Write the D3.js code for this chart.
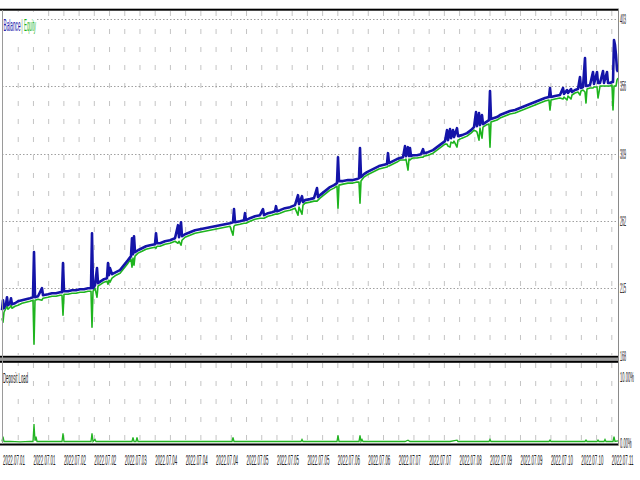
<!DOCTYPE html>
<html><head><meta charset="utf-8">
<script src="https://cdn.jsdelivr.net/npm/d3@7"></script>
<style>body{margin:0;background:#fff}svg{display:block}</style>
</head><body><svg id="c" width="640" height="480"></svg>
<script>
// ---- data (trade number, balance, equity) ----
const trade = [2,3,4,6,7,8,10,11,12,15,18,22,26,30,33,34,35,38,42,43,48,52,56,60,62,63,64,68,72,76,80,84,88,91,92,93,95,97,98,101,104,107,108,109,110,112,116,120,124,128,131,132,133,134,135,138,142,146,150,155,156,157,160,165,170,175,178,179,181,182,185,190,195,200,205,210,215,220,225,230,233,234,235,240,244,245,246,250,255,260,263,264,268,272,275,276,277,280,285,290,295,298,299,302,303,305,310,314,317,318,320,325,330,334,337,338,339,343,348,353,357,359,360,361,364,367,371,375,379,383,387,388,389,393,397,400,403,405,406,408,409,410,411,413,417,421,423,424,428,433,437,441,445,447,448,450,451,453,454,457,458,462,467,471,474,476,477,479,480,482,483,486,489,490,491,494,497,500,505,510,515,520,525,530,535,540,545,549,550,551,555,560,563,564,567,568,571,572,575,578,580,581,583,585,586,587,590,593,594,597,598,600,603,604,607,608,610,612,613,614,615,616,617,618];
const balance = [199.6,206.6,201.0,203.8,208.7,203.1,204.5,208.0,203.8,204.5,205.9,206.6,207.3,208.0,208.7,240.2,208.7,209.4,215.0,210.1,210.8,211.5,211.5,212.2,212.2,232.5,212.9,212.9,213.6,213.6,214.3,214.3,215.0,215.0,253.4,215.0,217.1,229.0,218.5,219.9,221.3,222.0,232.5,224.1,229.0,224.8,226.2,227.6,231.1,234.6,237.4,249.9,238.8,251.3,240.2,241.5,242.9,244.3,245.0,245.7,253.4,246.4,246.4,247.8,248.5,249.9,259.0,250.6,261.1,251.3,252.7,254.1,255.5,256.2,256.9,257.6,258.3,259.0,259.7,260.4,261.1,270.2,261.1,261.8,262.5,267.4,262.5,263.9,265.3,266.0,270.2,266.0,267.4,268.1,268.8,272.3,268.8,269.5,270.9,271.6,273.0,280.0,273.7,279.3,275.1,276.5,277.2,277.9,284.9,278.6,280.0,282.8,285.6,287.0,288.4,306.5,289.8,289.8,290.5,290.5,291.2,291.9,312.8,292.6,294.7,296.1,297.5,298.9,300.3,301.0,301.7,309.3,302.4,303.8,305.2,305.9,306.5,314.2,307.2,313.5,307.2,312.8,307.2,307.9,307.9,308.6,312.1,309.3,310.0,311.4,313.5,315.6,317.7,325.4,318.4,326.1,319.8,325.4,320.5,326.8,321.2,321.9,323.3,325.4,327.5,338.0,328.2,337.3,328.9,335.9,329.6,331.0,332.4,352.7,333.1,333.8,334.5,335.9,337.3,338.7,339.4,340.8,342.2,343.6,345.0,346.4,347.8,348.5,354.8,348.5,349.2,349.9,354.8,350.6,353.4,351.3,354.1,352.0,353.4,354.1,362.5,354.8,355.5,375.7,356.2,356.2,356.9,366.0,357.6,366.0,358.3,358.3,366.7,358.3,366.0,358.3,358.3,359.0,359.0,388.3,384.8,377.8,367.4,366.0];
const equity = [194.0,191.2,198.2,201.0,202.4,200.3,201.7,203.1,201.0,202.4,203.1,204.5,205.2,205.9,206.6,175.9,206.6,207.3,206.6,208.0,208.7,209.4,209.4,210.1,210.1,196.1,210.8,210.8,211.5,211.5,212.2,212.2,212.9,212.9,187.7,212.9,215.0,208.7,216.4,217.8,219.2,219.9,217.8,220.6,219.2,222.0,224.1,225.5,229.0,232.5,235.3,229.7,236.0,231.1,237.4,239.5,240.8,242.2,242.9,243.6,242.9,244.3,244.3,245.7,246.4,247.8,246.4,247.8,245.0,248.5,250.6,252.0,253.4,254.1,254.8,255.5,256.2,256.9,257.6,258.3,252.0,258.3,259.0,259.7,260.4,260.4,260.4,261.8,263.2,263.9,263.9,263.9,265.3,266.0,266.7,266.7,266.7,267.4,268.8,269.5,270.9,266.0,271.6,266.7,273.0,274.4,275.1,275.8,275.8,276.5,277.9,280.7,283.5,284.9,286.3,270.9,287.0,287.7,288.4,288.4,289.1,289.1,274.4,289.8,292.6,294.0,295.4,296.8,298.2,298.9,299.6,300.3,300.3,301.7,303.1,304.5,304.5,304.5,305.2,297.5,305.2,304.5,305.2,305.9,305.9,306.5,306.5,307.2,307.9,309.3,311.4,313.5,315.6,315.6,314.2,313.5,317.0,316.3,317.7,313.5,318.4,319.8,321.2,323.3,325.4,324.7,324.0,318.4,326.8,319.8,327.5,328.9,329.6,313.5,331.0,331.7,332.4,333.8,335.2,336.6,337.3,338.7,340.1,341.5,342.9,344.3,345.7,346.4,339.4,346.4,347.1,347.8,347.1,348.5,346.4,349.2,347.1,349.9,351.3,352.0,349.9,352.7,353.4,352.0,344.3,354.1,354.8,354.8,355.5,355.5,347.8,356.2,356.2,356.2,356.2,356.2,356.2,356.9,339.4,356.2,356.2,356.2,360.4,361.8];
const loadTrade = [2,3,4,10,20,30,33,34,35,36,37,50,62,63,64,80,91,92,93,95,96,110,132,133,134,136,137,138,160,200,232,233,234,270,301,302,303,337,338,339,359,360,361,362,363,405,408,410,450,457,458,489,490,491,549,550,551,585,586,587,597,598,599,604,605,606,613,614,615,618];
const loadValue = [0.3,1.0,0.3,0.3,0.25,0.3,0.3,2.9,0.4,1.0,0.3,0.3,0.3,1.5,0.3,0.3,0.3,1.5,0.3,0.6,0.3,0.3,0.3,0.9,0.3,0.3,0.9,0.3,0.3,0.3,0.3,0.9,0.3,0.3,0.3,0.6,0.3,0.3,1.2,0.3,0.3,1.2,0.3,0.6,0.3,0.3,0.5,0.3,0.3,0.5,0.3,0.3,0.6,0.3,0.3,0.5,0.3,0.3,0.5,0.3,0.3,0.5,0.3,0.3,0.6,0.3,0.3,1.0,0.3,0.4];
const balanceTicks = [403,356,309,262,215,168];
const loadTicks = [10,0];
const dateLabels = ["2022.07.01","2022.07.01","2022.07.02","2022.07.02","2022.07.03","2022.07.04","2022.07.04","2022.07.04","2022.07.05","2022.07.05","2022.07.05","2022.07.06","2022.07.06","2022.07.07","2022.07.07","2022.07.08","2022.07.09","2022.07.09","2022.07.10","2022.07.10","2022.07.11"];

// ---- layout ----
const svg = d3.select("#c");
const LEFT = 2, RIGHT = 618.5;
const x = d3.scaleLinear().domain([2, 618]).range([2, 618]);
const y = d3.scaleLinear().domain([168, 403]).range([355.5, 19]);
const yl = d3.scaleLinear().domain([0, 10]).range([443.5, 376]);
const FONT = "'Liberation Sans', Arial, sans-serif";
const gridStep = 15.22, gridX0 = 3;
const gridX = d3.range(1, 41).map(k => gridX0 + k * gridStep);

// condensed text helper (horizontal squeeze like the reference)
function ctext(sel, tx, ty, sx, size, fill, str) {
  return sel.append("text").attr("transform", `translate(${tx},${ty}) scale(${sx},1)`)
    .attr("font-family", FONT).attr("font-size", size).attr("fill", fill).text(str);
}

// vertical dashed grid, both panels
const g = svg.append("g");
[[11, 355], [363, 443]].forEach(([a, b]) => {
  g.selectAll(null).data(gridX).enter().append("line")
    .attr("x1", d => d).attr("x2", d => d).attr("y1", a).attr("y2", b)
    .attr("stroke", "#c4c4c4").attr("stroke-width", 1).attr("stroke-dasharray", "5,13");
});
// horizontal dotted grid
g.selectAll(null).data(balanceTicks.slice(0, 5)).enter().append("line")
  .attr("x1", LEFT).attr("x2", RIGHT).attr("y1", d => Math.round(y(d)) + 0.5).attr("y2", d => Math.round(y(d)) + 0.5)
  .attr("stroke", "#a0a0a0").attr("stroke-width", 1).attr("stroke-dasharray", "1.5,2");

// lines
const pts = trade.map((t, i) => ({t, b: balance[i], e: equity[i]}));
svg.append("path").datum(pts)
  .attr("d", d3.line().x(d => x(d.t)).y(d => y(d.e)))
  .attr("fill", "none").attr("stroke", "#1eb41e").attr("stroke-width", 1.6).attr("stroke-linejoin", "round");
svg.append("path").datum(pts)
  .attr("d", d3.line().x(d => x(d.t)).y(d => y(d.b)))
  .attr("fill", "none").attr("stroke", "#1414a8").attr("stroke-width", 2.6).attr("stroke-linejoin", "round");

// deposit load
const lp = loadTrade.map((t, i) => ({t, v: loadValue[i]}));
svg.append("path").datum(lp)
  .attr("d", d3.line().x(d => x(d.t)).y(d => yl(d.v)))
  .attr("fill", "none").attr("stroke", "#22b422").attr("stroke-width", 1.3);

// frames
svg.append("rect").attr("x", 0).attr("y", 8.7).attr("width", RIGHT).attr("height", 2).attr("fill", "#000");
svg.append("rect").attr("x", 0).attr("y", 355.8).attr("width", RIGHT).attr("height", 2).attr("fill", "#000");
svg.append("rect").attr("x", 0).attr("y", 357.8).attr("width", RIGHT).attr("height", 3).attr("fill", "#9a9a9a");
svg.append("rect").attr("x", 0).attr("y", 360.8).attr("width", RIGHT).attr("height", 2).attr("fill", "#000");
svg.append("rect").attr("x", 0).attr("y", 443.5).attr("width", RIGHT).attr("height", 2).attr("fill", "#000");
svg.append("line").attr("x1", 2.5).attr("x2", 2.5).attr("y1", 10).attr("y2", 444).attr("stroke", "#9a9a9a");
svg.append("line").attr("x1", RIGHT).attr("x2", RIGHT).attr("y1", 8.7).attr("y2", 445.5).attr("stroke", "#8a8a8a");

// legends
svg.append("rect").attr("x", 3).attr("y", 12).attr("width", 34).attr("height", 24).attr("fill", "#fff");
ctext(svg, 3.5, 31, 0.277, 17, "#1414a8", "Balance");
ctext(svg, 21.3, 31, 0.35, 17, "#7a9a7a", "|");
ctext(svg, 24, 31, 0.254, 17, "#1eb41e", "Equity");
svg.append("rect").attr("x", 3).attr("y", 366).attr("width", 27).attr("height", 21).attr("fill", "#fff");
ctext(svg, 3, 383, 0.283, 15, "#202020", "Deposit Load");

// right axis labels
balanceTicks.forEach(d => ctext(svg, 620, y(d) + 5, 0.26, 14, "#202020", d));
loadTicks.forEach(d => ctext(svg, 620, d === 0 ? 447.5 : yl(d) + 5.5, 0.29, 14, "#202020", d.toFixed(2) + "%"));

// date labels
dateLabels.forEach((d, i) => ctext(svg, gridX0 + i * 2 * gridStep, 465, 0.293, 15, "#202020", d));
</script></body></html>
